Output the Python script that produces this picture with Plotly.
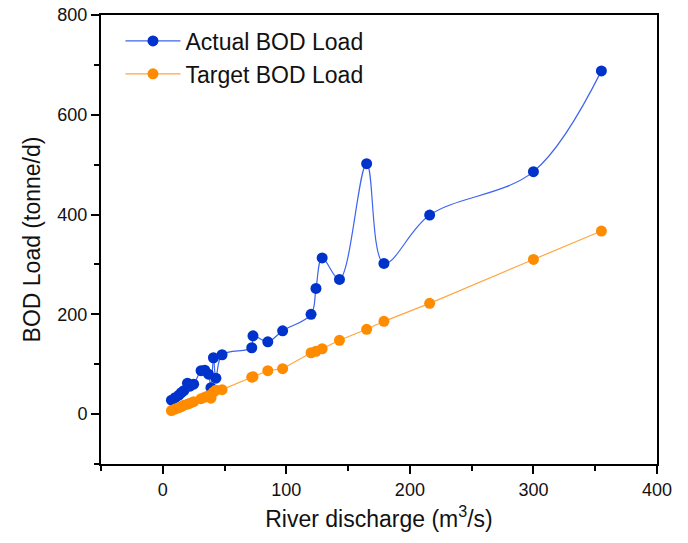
import plotly.graph_objects as go

# River discharge (m3/s)
discharge = [7, 10, 13, 15, 17, 20, 22, 25, 31, 34, 37, 39, 41, 43, 48,
             72, 73, 85, 97, 120, 124, 129, 143, 165, 179, 216, 300, 355]
# Actual BOD load (tonne/d)
actual = [28, 33, 38, 43, 47, 62, 56, 60, 87, 88, 80, 53, 113, 72, 119,
          133, 157, 145, 167, 200, 252, 313, 270, 502, 302, 399, 486, 688]
# Target BOD load (tonne/d)
target = [7, 10, 13, 15, 18, 20, 22, 25, 31, 34, 37, 32, 44, 48, 49,
          74, 75, 87, 91, 123, 126, 131, 148, 170, 186, 222, 310, 367]

x_ticks = [0, 100, 200, 300, 400]
y_ticks = [0, 200, 400, 600, 800]

FONT = "Liberation Sans, Arial, sans-serif"

fig = go.Figure()
fig.add_trace(go.Scatter(
    x=discharge, y=actual, name="Actual BOD Load",
    mode="lines+markers",
    line=dict(color="#3E64F0", width=1.2, shape="spline", smoothing=1),
    marker=dict(color="#0033CC", size=11),
))
fig.add_trace(go.Scatter(
    x=discharge, y=target, name="Target BOD Load",
    mode="lines+markers",
    line=dict(color="#FFA640", width=1.2),
    marker=dict(color="#FF8C00", size=11),
))

axis_common = dict(
    showline=True, linecolor="#000000", linewidth=2, mirror=True,
    ticks="outside", ticklen=8, tickwidth=2, tickcolor="#000000",
    showgrid=False, zeroline=False, automargin=False,
    tickfont=dict(family=FONT, size=18, color="#111111"),
)

fig.update_xaxes(
    range=[-50, 400], tickvals=x_ticks,
    title=dict(text="River discharge (m<sup>3</sup>/s)",
               font=dict(family=FONT, size=23, color="#111111"), standoff=12),
    minor=dict(dtick=50, tick0=0, ticks="outside", ticklen=5, tickcolor="#000000", tickwidth=2),
    **axis_common,
)
fig.update_yaxes(
    range=[-100, 800], tickvals=y_ticks,
    title=dict(text="BOD Load (tonne/d)",
               font=dict(family=FONT, size=23, color="#111111"), standoff=10),
    minor=dict(dtick=100, tick0=0, ticks="outside", ticklen=5, tickcolor="#000000", tickwidth=2),
    **axis_common,
)

fig.update_layout(
    width=688, height=543,
    margin=dict(l=101, r=31, t=15, b=79),
    plot_bgcolor="white", paper_bgcolor="white",
    font=dict(family=FONT, color="#111111"),
    legend=dict(x=0.035, y=0.99, xanchor="left", yanchor="top",
                font=dict(family=FONT, size=23, color="#111111"),
                bgcolor="rgba(0,0,0,0)", itemwidth=55, tracegroupgap=0),
)

fig.write_html("out.html")
